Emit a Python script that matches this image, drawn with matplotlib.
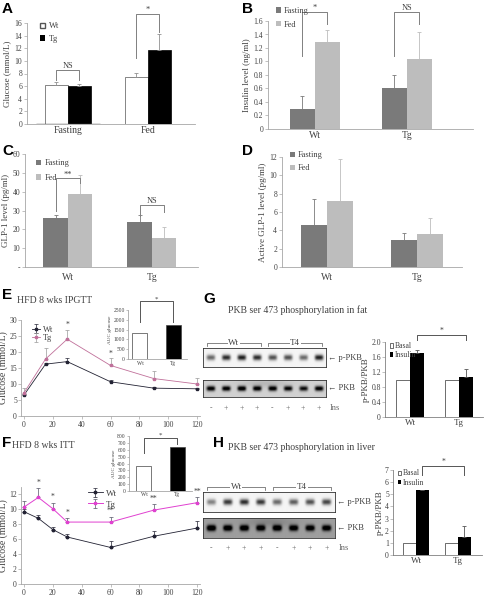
import numpy as np
import matplotlib
matplotlib.use('Agg')
import matplotlib.pyplot as plt

plt.rcParams['font.family'] = ['Liberation Serif', 'DejaVu Serif']

W, H = 485, 596

# Panel A: blood glucose
a_groups = ['Fasting', 'Fed']
a_wt = [6.2, 7.4]
a_wt_err = [0.5, 0.7]
a_tg = [6.0, 11.8]
a_tg_err = [0.4, 2.5]

# Panel B: insulin
b_groups = ['Wt', 'Tg']
b_fast = [0.29, 0.60]
b_fast_err = [0.20, 0.20]
b_fed = [1.29, 1.04]
b_fed_err = [0.18, 0.40]

# Panel C: GLP-1
c_groups = ['Wt', 'Tg']
c_fast = [26.0, 24.0]
c_fast_err = [1.5, 3.5]
c_fed = [38.5, 15.5]
c_fed_err = [10.5, 6.0]

# Panel D: active GLP-1
d_groups = ['Wt', 'Tg']
d_fast = [4.6, 3.0]
d_fast_err = [2.8, 0.7]
d_fed = [7.2, 3.6]
d_fed_err = [4.6, 1.8]

# Panel E: IPGTT
e_time = [0, 15, 30, 60, 90, 120]
e_wt = [6.5, 16.2, 17.0, 10.7, 8.7, 8.5]
e_wt_err = [0.5, 0.5, 1.0, 0.5, 0.3, 0.3]
e_tg = [7.2, 17.8, 24.0, 15.8, 11.7, 10.0]
e_tg_err = [1.5, 3.5, 3.0, 2.3, 2.3, 1.8]
e_stars = {30: '*', 60: '*'}
e_auc = [1350, 1750]

# Panel F: ITT
f_time = [0, 10, 20, 30, 60, 90, 120]
f_wt = [9.7, 8.8, 7.3, 6.3, 4.9, 6.4, 7.5]
f_wt_err = [0.3, 0.4, 0.4, 0.4, 0.8, 0.7, 1.0]
f_tg = [10.3, 11.6, 10.1, 8.3, 8.3, 9.9, 10.9]
f_tg_err = [0.8, 1.2, 0.8, 0.5, 0.7, 0.8, 0.7]
f_stars = ['', '*', '*', '*', '**', '**', '**']
f_auc = [360, 645]

# Panels G/H: PKB phosphorylation
ins_signs = ['-', '+', '+', '+', '-', '+', '+', '+']
g_ppkb = [0.55, 0.8, 0.85, 0.8, 0.65, 0.65, 0.55, 0.85]
g_pkb = [0.9, 0.9, 0.95, 0.9, 0.9, 0.85, 0.8, 0.9]
g_basal = [1.0, 1.0]
g_insulin = [1.72, 1.06]
g_insulin_err = [0.08, 0.22]
h_ppkb = [0.45, 0.75, 0.8, 0.75, 0.55, 0.6, 0.65, 0.7]
h_pkb = [0.9, 0.85, 0.85, 0.8, 0.85, 0.8, 0.8, 0.8]
h_basal = [1.0, 1.0]
h_insulin = [5.35, 1.5]
h_insulin_err = [0.0, 0.85]

DARK = '#7a7a7a'
LIGHT = '#bdbdbd'
AXC = '#a6a6a6'
TXT = '#404040'


def px_axes(x0, y0, x1, y1):
    return fig.add_axes([x0 / W, 1 - y1 / H, (x1 - x0) / W, (y1 - y0) / H])


def style(ax, fs=5.5):
    for s in ['top', 'right']:
        ax.spines[s].set_visible(False)
    for s in ['left', 'bottom']:
        ax.spines[s].set_color(AXC)
        ax.spines[s].set_linewidth(0.6)
    ax.tick_params(colors=AXC, labelcolor=TXT, labelsize=fs, length=2, width=0.5, pad=1.5)


def bracket(ax, x1, x2, yl, ytop, yr, text, color='#808080', fs=6):
    ax.plot([x1, x1, x2, x2], [yl, ytop, ytop, yr], color=color, lw=0.7, clip_on=False)
    ax.text((x1 + x2) / 2, ytop, text, ha='center', va='bottom', fontsize=fs, color=TXT)


def upper_err(ax, x, y, e, color, capsize=1.5):
    ax.errorbar(x, y, yerr=[np.zeros(len(e)), e], fmt='none', ecolor=color,
                elinewidth=0.6, capsize=capsize, capthick=0.6)


def paired_bars(ax, groups, v1, v2, c1, c2, w, ec1='none', ec2='none'):
    x = np.arange(len(groups))
    ax.bar(x - w / 2, v1, w, color=c1, edgecolor=ec1, linewidth=0.5)
    ax.bar(x + w / 2, v2, w, color=c2, edgecolor=ec2, linewidth=0.5)
    return x


fig = plt.figure(figsize=(W / 100, H / 100), dpi=100)


def letter(x, y, s):
    fig.text(x / W, 1 - y / H, s, fontsize=11, fontweight='bold',
             family='Liberation Sans', va='top', ha='left')


# ---- A ----
ax = px_axes(27, 23, 195, 124)
style(ax)
x = paired_bars(ax, a_groups, a_wt, a_tg, 'white', 'black', 0.29,
                ec1='#555555', ec2='black')
upper_err(ax, x - 0.145, a_wt, a_wt_err, '#909090')
upper_err(ax, x + 0.145, a_tg, a_tg_err, '#909090')
ax.set_xlim(-0.51, 1.59)
ax.set_ylim(0, 16)
ax.set_yticks(range(0, 17, 2))
ax.set_xticks(x)
ax.set_xticklabels(a_groups, fontsize=7)
ax.tick_params(axis='x', length=0)
ax.set_ylabel('Glucose (mmol/L)', fontsize=6.5, color=TXT, labelpad=2)
bracket(ax, -0.145, 0.145, 7.0, 8.5, 7.0, 'NS')
bracket(ax, 0.855, 1.145, 10.5, 17.5, 14.5, '*')
ax.bar([0], [0], color='white', edgecolor='#555555', label='Wt')
ax.bar([0], [0], color='black', label='Tg')
ax.legend(loc='upper left', bbox_to_anchor=(0.03, 1.08), frameon=False, fontsize=6,
          handlelength=0.7, handleheight=0.7, handletextpad=0.4, labelspacing=0.5,
          labelcolor=TXT)
letter(2, 2, 'A')

# ---- B ----
ax = px_axes(268, 21, 473, 129)
style(ax)
x = paired_bars(ax, b_groups, b_fast, b_fed, DARK, LIGHT, 0.27)
upper_err(ax, x - 0.135, b_fast, b_fast_err, DARK)
upper_err(ax, x + 0.135, b_fed, b_fed_err, LIGHT)
ax.set_xlim(-0.51, 1.72)
ax.set_ylim(0, 1.6)
ax.set_yticks(np.arange(0, 1.61, 0.2))
ax.set_yticklabels(['0'] + ['%.1f' % v for v in np.arange(0.2, 1.61, 0.2)])
ax.set_xticks(x)
ax.set_xticklabels(b_groups, fontsize=7)
ax.tick_params(axis='x', length=0)
ax.set_ylabel('Insulin level (ng/ml)', fontsize=6.5, color=TXT, labelpad=2)
bracket(ax, -0.135, 0.135, 1.08, 1.73, 1.55, '*')
bracket(ax, 0.865, 1.135, 1.08, 1.73, 1.55, 'NS')
ax.bar([0], [0], color=DARK, label='Fasting')
ax.bar([0], [0], color=LIGHT, label='Fed')
ax.legend(loc='upper left', bbox_to_anchor=(0.0, 1.2), frameon=False, fontsize=6,
          handlelength=0.6, handleheight=0.6, handletextpad=0.4, labelspacing=0.7,
          labelcolor=TXT)
letter(242, 2, 'B')

# ---- C ----
ax = px_axes(25, 154, 198, 267)
style(ax)
x = paired_bars(ax, c_groups, c_fast, c_fed, DARK, LIGHT, 0.29)
upper_err(ax, x - 0.145, c_fast, c_fast_err, DARK)
upper_err(ax, x + 0.145, c_fed, c_fed_err, LIGHT)
ax.set_xlim(-0.51, 1.55)
ax.set_ylim(0, 60)
ax.set_yticks(range(0, 61, 10))
ax.set_yticklabels(['-'] + [str(v) for v in range(10, 61, 10)])
ax.set_xticks(x)
ax.set_xticklabels(c_groups, fontsize=7)
ax.tick_params(axis='x', length=0, pad=4)
ax.set_ylabel('GLP-1 level (pg/ml)', fontsize=6.5, color=TXT, labelpad=2)
bracket(ax, -0.145, 0.145, 30, 47, 44.5, '**')
bracket(ax, 0.855, 1.145, 27, 33, 29, 'NS')
ax.bar([0], [0], color=DARK, label='Fasting')
ax.bar([0], [0], color=LIGHT, label='Fed')
ax.legend(loc='upper left', bbox_to_anchor=(0.02, 1.02), frameon=False, fontsize=6,
          handlelength=0.6, handleheight=0.6, handletextpad=0.4, labelspacing=0.8,
          labelcolor=TXT)
letter(2, 144, 'C')

# ---- D ----
ax = px_axes(282, 157, 462, 267)
style(ax)
x = paired_bars(ax, d_groups, d_fast, d_fed, DARK, LIGHT, 0.29)
upper_err(ax, x - 0.145, d_fast, d_fast_err, DARK)
upper_err(ax, x + 0.145, d_fed, d_fed_err, LIGHT)
ax.set_xlim(-0.5, 1.5)
ax.set_ylim(0, 12)
ax.set_yticks(range(0, 13, 2))
ax.set_xticks(x)
ax.set_xticklabels(d_groups, fontsize=7)
ax.tick_params(axis='x', length=0, pad=4)
ax.set_ylabel('Active GLP-1 level (pg/ml)', fontsize=6.5, color=TXT, labelpad=2)
ax.bar([0], [0], color=DARK, label='Fasting')
ax.bar([0], [0], color=LIGHT, label='Fed')
ax.legend(loc='upper left', bbox_to_anchor=(0.0, 1.12), frameon=False, fontsize=6,
          handlelength=0.6, handleheight=0.6, handletextpad=0.4, labelspacing=0.6,
          labelcolor=TXT)
letter(242, 144, 'D')

# ---- E ----
TG_E = '#c0709a'
ax = px_axes(21, 320, 200, 416)
style(ax)
ax.errorbar(e_time, e_wt, yerr=[np.zeros(6), e_wt_err], color='#222233', lw=0.6,
            marker='s', ms=2, capsize=1.2, elinewidth=0.5, capthick=0.5, label='Wt')
ax.errorbar(e_time, e_tg, yerr=[np.zeros(6), e_tg_err], color=TG_E, lw=0.6,
            marker='s', ms=2, capsize=1.2, elinewidth=0.5, capthick=0.5, ecolor='#999999',
            label='Tg')
for t, s in e_stars.items():
    i = e_time.index(t)
    ax.text(t, e_tg[i] + e_tg_err[i] + 0.2, s, ha='center', va='bottom', fontsize=5.5, color=TXT)
ax.set_xlim(-2, 122)
ax.set_ylim(0, 30)
ax.set_yticks(range(0, 31, 5))
ax.set_xticks(range(0, 121, 20))
ax.tick_params(axis='y', pad=1)
ax.set_ylabel('Glucose (mmol/L)', fontsize=7, color=TXT)
ax.yaxis.set_label_coords(-0.07, 0.5)
ax.legend(loc='upper left', bbox_to_anchor=(0.02, 1.02), frameon=False, fontsize=6,
          handlelength=1.0, handletextpad=0.3, labelspacing=0.1, labelcolor=TXT)
letter(2, 288, 'E')
fig.text(17 / W, 1 - 300 / H, 'HFD 8 wks IPGTT', fontsize=7, color=TXT, va='center')

ax = px_axes(128, 310, 187, 359)
style(ax, fs=4)
ax.bar([0, 1], e_auc, 0.45, color=['white', 'black'], edgecolor='#444444', linewidth=0.5)
ax.set_xlim(-0.36, 1.42)
ax.set_ylim(0, 2500)
ax.set_yticks(range(0, 2501, 500))
ax.set_xticks([0, 1])
ax.set_xticklabels(['Wt', 'Tg'], fontsize=4)
ax.tick_params(axis='x', length=0)
ax.tick_params(axis='y', pad=0.8, length=1.5)
ax.set_ylabel('AUC glucose', fontsize=3.8, color=TXT)
ax.yaxis.set_label_coords(-0.27, 0.6)
bracket(ax, 0, 1, 1900, 2950, 1900, '*', color='#555555', fs=5)

# ---- F ----
TG_F = '#e040d0'
ax = px_axes(21, 487, 200, 584)
style(ax)
ax.errorbar(f_time, f_wt, yerr=[np.zeros(7), f_wt_err], color='#222233', lw=0.6,
            marker='o', ms=1.8, capsize=1.2, elinewidth=0.5, capthick=0.5, label='Wt')
ax.errorbar(f_time, f_tg, yerr=[np.zeros(7), f_tg_err], color=TG_F, lw=0.7,
            marker='s', ms=2, capsize=1.2, elinewidth=0.5, capthick=0.5, ecolor='#555566',
            label='Tg')
for t, v, e, s in zip(f_time, f_tg, f_tg_err, f_stars):
    if s:
        ax.text(t, v + e + 0.2, s, ha='center', va='bottom', fontsize=5.5, color=TXT)
ax.set_xlim(-2, 122)
ax.set_ylim(0, 13)
ax.set_yticks(range(0, 13, 2))
ax.set_xticks(range(0, 121, 20))
ax.tick_params(axis='y', pad=1)
ax.set_ylabel('Glucose (mmol/L)', fontsize=7, color=TXT)
ax.yaxis.set_label_coords(-0.07, 0.5)
ax.legend(loc='upper left', bbox_to_anchor=(0.33, 1.06), frameon=False, fontsize=6.5,
          handlelength=1.6, handletextpad=0.4, labelspacing=0.3, labelcolor=TXT)
letter(2, 436, 'F')
fig.text(12 / W, 1 - 446 / H, 'HFD 8 wks ITT', fontsize=7, color=TXT, va='center')

ax = px_axes(129, 436, 192, 491)
style(ax, fs=4)
ax.bar([0, 1], f_auc, 0.45, color=['white', 'black'], edgecolor='#444444', linewidth=0.5)
ax.set_xlim(-0.45, 1.45)
ax.set_ylim(0, 800)
ax.set_yticks(range(0, 801, 100))
ax.set_xticks([0, 1])
ax.set_xticklabels(['Wt', 'Tg'], fontsize=4)
ax.tick_params(axis='x', length=0, pad=0.8)
ax.tick_params(axis='y', pad=0.8, length=1.5)
ax.set_ylabel('AUC glucose', fontsize=3.8, color=TXT, labelpad=0.5)
bracket(ax, 0, 1, 560, 770, 680, '*', color='#555555', fs=5)


# ---- blots ----
def blot(box, bands, bg, smudge=0.0):
    x0, y0, x1, y1 = box
    ax = px_axes(x0, y0, x1, y1)
    nx, ny = 400, 60
    xx = np.linspace(0, len(bands), nx)
    yy = np.linspace(-1, 1, ny)
    X, Y = np.meshgrid(xx, yy)
    img = np.full(X.shape, bg)
    for i, b in enumerate(bands):
        img -= b * np.exp(-((X - i - 0.5) / 0.28) ** 4) * np.exp(-(Y / 0.3) ** 2)
    if smudge:
        img -= smudge * np.exp(-((X - 4) / 1.5) ** 2) * np.exp(-((Y + 0.6) / 0.5) ** 2)
    ax.imshow(np.clip(img, 0, 1), cmap='gray', vmin=0, vmax=1, aspect='auto',
              extent=(0, len(bands), -1, 1))
    ax.set_xticks([])
    ax.set_yticks([])
    for s in ax.spines.values():
        s.set_linewidth(0.6)
        s.set_color('#333333')
    return ax


def blot_panel(top_box, bot_box, top_bands, bot_bands, bot_bg, ins_y, grp_y):
    blot(top_box, top_bands, 0.96)
    blot(bot_box, bot_bands, bot_bg, smudge=0.1)
    x0, x1 = top_box[0], top_box[2]
    lane = (x1 - x0) / len(top_bands)
    centers = [x0 + (i + 0.5) * lane for i in range(len(top_bands))]
    for ymid, name in [((top_box[1] + top_box[3]) / 2, 'p-PKB'),
                       ((bot_box[1] + bot_box[3]) / 2, 'PKB')]:
        fig.text((x1 + 2) / W, 1 - ymid / H, '\u2190 ' + name, fontsize=6,
                 color=TXT, va='center', family=['Liberation Serif', 'DejaVu Sans'])
    for k, name in enumerate(['Wt', 'T4']):
        a = centers[4 * k] - 4
        b = centers[4 * k + 3] + 4
        yf = 1 - grp_y / H
        fig.lines.append(plt.Line2D([a / W, a / W, b / W, b / W],
                                    [yf - 3 / H, yf, yf, yf - 3 / H],
                                    color='#555555', lw=0.5, transform=fig.transFigure))
        fig.text((a + b) / 2 / W, yf, name, ha='center', va='center', fontsize=6.5,
                 color=TXT, bbox=dict(fc='white', ec='none', pad=0.5))
    for c, s in zip(centers, ins_signs):
        fig.text(c / W, 1 - ins_y / H, s, ha='center', va='center', fontsize=5.5, color='#666666')
    fig.text((x1 + 4) / W, 1 - ins_y / H, 'Ins', ha='left', va='center', fontsize=6, color='#666666')


def pkb_bars(box, basal, ins, ins_err, ylim, yticks, fmt, xlim, w, br):
    ax = px_axes(*box)
    style(ax)
    ax.spines['bottom'].set_color('#808080')
    ax.spines['left'].set_color('#808080')
    x = np.arange(len(basal))
    ax.bar(x - w / 2, basal, w, color='white', edgecolor='#333333', linewidth=0.5, label='Basal')
    ax.bar(x + w / 2, ins, w, color='black', label='Insulin')
    upper_err(ax, x + w / 2, ins, ins_err, '#555555')
    ax.set_xlim(*xlim)
    ax.set_ylim(*ylim)
    ax.set_yticks(yticks)
    ax.set_yticklabels([fmt(v) for v in yticks])
    ax.set_xticks(x)
    ax.set_xticklabels(['Wt', 'Tg'], fontsize=6.5)
    ax.tick_params(axis='x', length=0)
    ax.tick_params(axis='y', pad=1)
    ax.set_ylabel('p-PKB/PKB', fontsize=6.5, color=TXT, labelpad=1)
    bracket(ax, w / 2, 1 + w / 2, br[0], br[1], br[0], '*', color='#555555', fs=5.5)
    ax.legend(loc='upper left', bbox_to_anchor=(0.0, 1.06), frameon=False, fontsize=5.5,
              handlelength=0.5, handleheight=0.5, handletextpad=0.2, labelspacing=0.15,
              borderaxespad=0.2, labelcolor=TXT)


# ---- G ----
letter(203, 292, 'G')
fig.text(228 / W, 1 - 310 / H, 'PKB ser 473 phosphorylation in fat', fontsize=7,
         color=TXT, va='center')
blot_panel((203, 348, 326, 367), (203, 380, 326, 397), g_ppkb, g_pkb, 0.82, 408, 343)
pkb_bars((385, 342, 483, 417), g_basal, g_insulin, g_insulin_err, (0, 2.0),
         [0, 0.4, 0.8, 1.2, 1.6, 2.0], lambda v: '0' if v == 0 else '%.1f' % v,
         (-0.51, 1.49), 0.285, (2.05, 2.2))

# ---- H ----
letter(213, 436, 'H')
fig.text(228 / W, 1 - 448 / H, 'PKB ser 473 phosphorylation in liver', fontsize=7,
         color=TXT, va='center')
blot_panel((203, 492, 335, 512), (203, 518, 335, 538), h_ppkb, h_pkb, 0.62, 548, 487)
pkb_bars((393, 470, 482, 555), h_basal, h_insulin, h_insulin_err, (0, 7),
         list(range(0, 8)), lambda v: str(v), (-0.55, 1.57), 0.3, (6.6, 7.3))

plt.savefig('out.png', dpi=100)
